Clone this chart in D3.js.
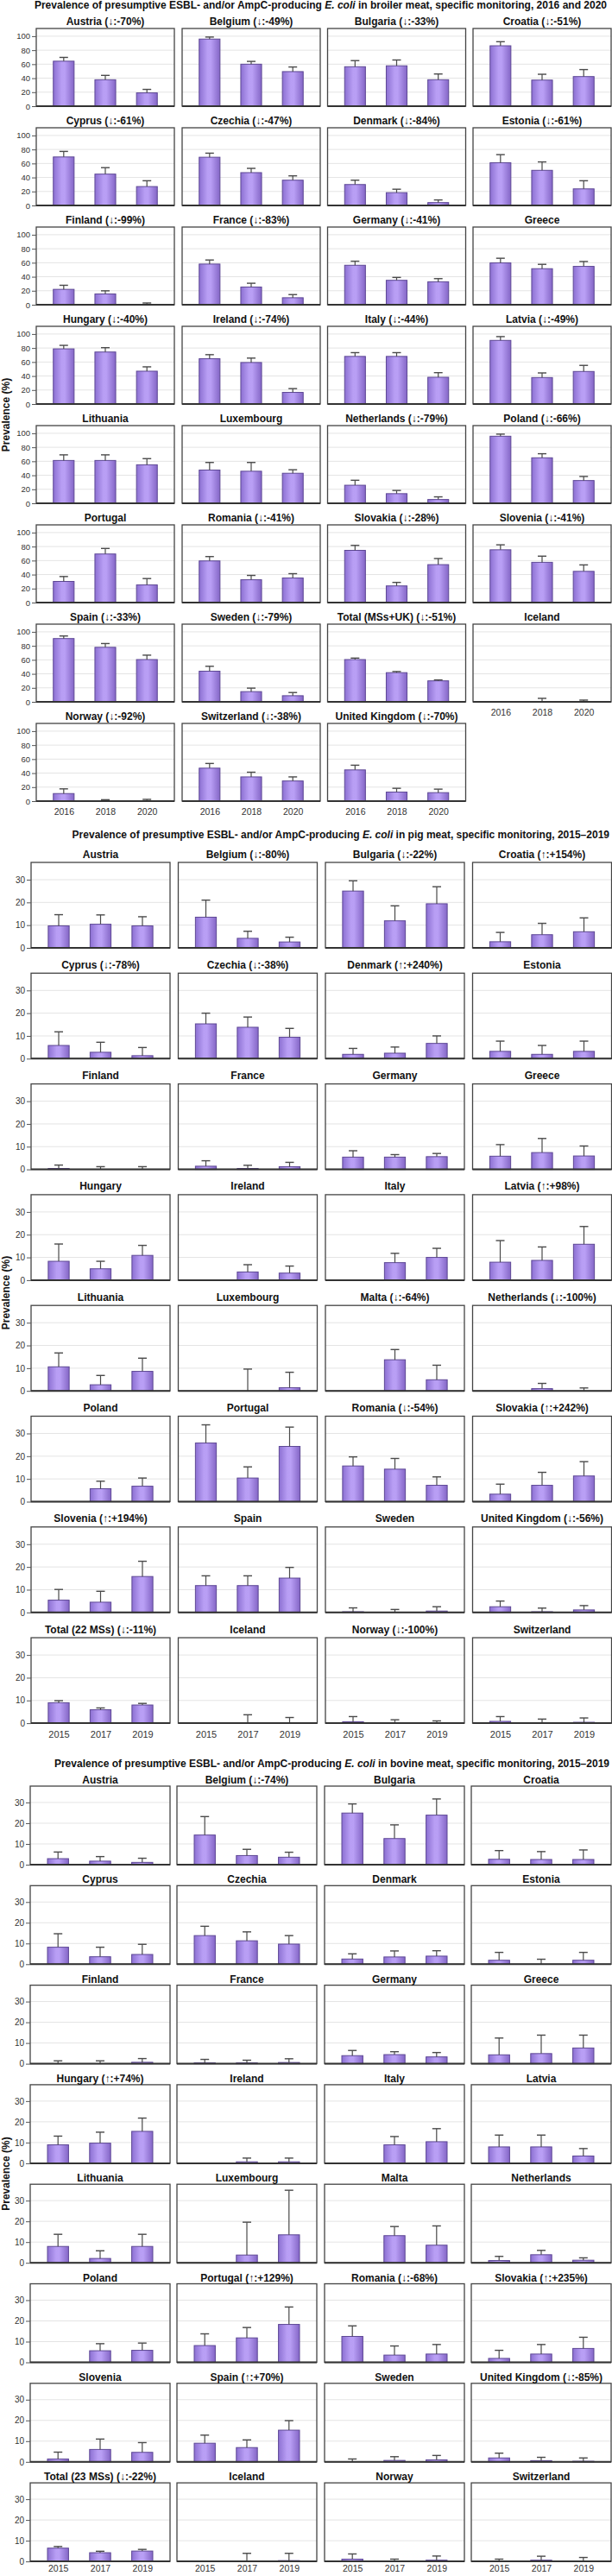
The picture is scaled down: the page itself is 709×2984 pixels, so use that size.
<!DOCTYPE html>
<html><head><meta charset="utf-8">
<script src="https://cdn.jsdelivr.net/npm/d3@7/dist/d3.min.js"></script>
<style>
body{margin:0;background:#fff}
svg{display:block;font-family:"Liberation Sans",Arial,Helvetica,sans-serif}
</style>
</head><body>
<svg id="chart" width="709" height="2984"></svg>
<script>
// ---------------- DATA ----------------
const broilerYears = ["2016", "2018", "2020"];
const broilerPanels = ["Austria (↓:-70%)","Belgium (↓:-49%)","Bulgaria (↓:-33%)","Croatia (↓:-51%)",
 "Cyprus (↓:-61%)","Czechia (↓:-47%)","Denmark (↓:-84%)","Estonia (↓:-61%)",
 "Finland (↓:-99%)","France (↓:-83%)","Germany (↓:-41%)","Greece",
 "Hungary (↓:-40%)","Ireland (↓:-74%)","Italy (↓:-44%)","Latvia (↓:-49%)",
 "Lithuania","Luxembourg","Netherlands (↓:-79%)","Poland (↓:-66%)",
 "Portugal","Romania (↓:-41%)","Slovakia (↓:-28%)","Slovenia (↓:-41%)",
 "Spain (↓:-33%)","Sweden (↓:-79%)","Total (MSs+UK) (↓:-51%)","Iceland",
 "Norway (↓:-92%)","Switzerland (↓:-38%)","United Kingdom (↓:-70%)"];
const broilerPrev = [[64.3,37.8,19],[95.9,60,49.4],[56.4,57.7,37.8],[86.3,37.3,42.3],
 [69.3,44.8,27],[68.9,46.9,36.1],[29.9,18.3,4.1],[61,50.2,23.7],
 [22,15.4,0.3],[58.1,25.3,10],[56.4,34.9,32.8],[59.8,51.5,54.8],
 [78.8,74.3,46.9],[64.7,59.3,16.6],[68,68,38.2],[90.9,37.8,46.5],
 [61.2,61.2,55],[47.5,45.8,42.9],[25.8,13.75,5.4],[95.8,65,32.5],
 [30.2,69.4,25.2],[59.5,32.6,35.1],[74.6,23.8,54.2],[75.4,57.5,44.6],
 [90.4,77.9,60.4],[43.8,14.6,8.75],[60.4,41.7,30],[null,0.5,0],
 [10.8,0.3,0.5],[47.1,34.6,28.8],[44.6,12.9,12.1]];
const broilerUpper = [[69.7,44,24],[98.8,64,56],[65.1,66,46],[92.1,45.6,52.3],
 [77.2,54,35.3],[74.7,53,42.3],[36.1,23.2,7.9],[72.6,62.2,35.3],
 [27.8,19.9,2.5],[63.9,30.7,14.5],[62.2,39,37.3],[66.4,57.7,61.8],
 [83.8,80.5,53.1],[70.5,65.6,22],[73.4,73.4,44.8],[96.3,44.4,55.2],
 [69.2,69.2,63.8],[58.3,58.3,47.9],[32.9,18.3,9.2],[98.8,70.8,38.3],
 [37.2,77.3,34.3],[65.7,38.8,41.3],[81.7,28.8,62.9],[82.5,66.3,53.8],
 [94.1,83.3,66.7],[50.8,19.6,13.3],[62.5,43.3,31.3],[null,5,2.5],
 [17.5,2,2.5],[53.8,41.3,34.6],[51.3,18.3,17.1]];
const broilerTicks = [0, 20, 40, 60, 80, 100];

const pigYears = ["2015", "2017", "2019"];
const pigPanels = ["Austria","Belgium (↓:-80%)","Bulgaria (↓:-22%)","Croatia (↑:+154%)",
 "Cyprus (↓:-78%)","Czechia (↓:-38%)","Denmark (↑:+240%)","Estonia",
 "Finland","France","Germany","Greece",
 "Hungary","Ireland","Italy","Latvia (↑:+98%)",
 "Lithuania","Luxembourg","Malta (↓:-64%)","Netherlands (↓:-100%)",
 "Poland","Portugal","Romania (↓:-54%)","Slovakia (↑:+242%)",
 "Slovenia (↑:+194%)","Spain","Sweden","United Kingdom (↓:-56%)",
 "Total (22 MSs) (↓:-11%)","Iceland","Norway (↓:-100%)","Switzerland"];
const pigPrev = [[9.7,10.4,9.7],[13.5,4.2,2.6],[25,11.9,19.4],[2.7,5.8,7.1],
 [5.8,2.8,1.3],[15.3,13.8,9.4],[1.9,2.4,6.7],[3.2,1.9,3.2],
 [0.4,0,0],[1.4,0.4,1.2],[5.4,5.4,5.6],[5.8,7.4,5.9],
 [8.3,5,10.9],[null,3.6,3.1],[null,7.7,10],[7.9,8.7,15.8],
 [10.6,2.7,8.6],[null,0,1.4],[null,13.7,4.9],[null,1,0],
 [null,5.7,6.8],[25.8,10.4,24.3],[15.7,14.3,7.2],[3.3,7.2,11.3],
 [5.4,4.5,15.8],[11.8,11.8,15.1],[0.3,0,0.6],[2.5,0.3,1.1],
 [9,5.9,8],[null,0,0],[0.6,0.2,0],[0.8,0.2,0.4]];
const pigUpper = [[14.6,14.5,13.7],[21,7.3,4.7],[29.5,18.5,26.9],[6.8,10.8,13.2],
 [11.8,7.2,4.9],[20,18.3,13.3],[4.5,5.1,10],[7.7,5.8,7.7],
 [1.9,1.2,1.2],[3.8,1.8,3.1],[8.2,6.5,7],[10.9,13.6,10.3],
 [15.9,8.3,15.3],[null,6.8,6.2],[null,11.8,14],[17.4,14.6,23.6],
 [16.7,6.8,14.4],[null,9.6,8.2],[null,18.2,11.3],[null,3.3,1.3],
 [null,9,10.4],[33.8,15.3,32.8],[19.7,19,10.9],[7.7,12.9,17.6],
 [10.1,9.3,22.5],[16.1,16.1,19.8],[2,1.3,2.5],[5,1.9,3],
 [9.9,6.7,8.7],[null,3.7,2.5],[2.9,1.5,1],[2.9,1.8,2.3]];
const pigTicks = [0, 10, 20, 30];

const bovineYears = ["2015", "2017", "2019"];
const bovinePanels = ["Austria","Belgium (↓:-74%)","Bulgaria","Croatia",
 "Cyprus","Czechia","Denmark","Estonia",
 "Finland","France","Germany","Greece",
 "Hungary (↑:+74%)","Ireland","Italy","Latvia",
 "Lithuania","Luxembourg","Malta","Netherlands",
 "Poland","Portugal (↑:+129%)","Romania (↓:-68%)","Slovakia (↑:+235%)",
 "Slovenia","Spain (↑:+70%)","Sweden","United Kingdom (↓:-85%)",
 "Total (23 MSs) (↓:-22%)","Iceland","Norway","Switzerland"];
const bovinePrev = [[2.9,1.7,1.1],[14.3,4.4,3.6],[24.9,12.6,23.9],[2.6,2.5,2.5],
 [8.2,3.6,4.7],[13.8,11.3,9.7],[2.5,3.5,3.9],[1.9,0,1.9],
 [0,0,0.7],[0.4,0.4,0.6],[3.9,4.4,3.3],[4.3,4.9,7.6],
 [8.9,9.7,15.4],[null,0.7,0.7],[null,8.9,10.4],[7.9,7.9,3.5],
 [7.9,2.1,7.9],[null,3.75,13.5],[null,13.1,8.5],[1.1,3.9,1.25],
 [null,5.6,5.8],[8.1,11.8,18.3],[12.5,3.5,4],[1.9,4,6.7],
 [1.4,6,4.6],[9,6.9,15.3],[0,0.7,1],[1.9,0.6,0.3],
 [6.4,4.2,5],[null,0,0.4],[1.1,0,0.6],[0,0.6,0.2]];
const bovineUpper = [[6.1,3.9,3.1],[23.2,7.4,6],[29.3,19.2,31.7],[6.8,6.3,7.1],
 [14.7,8.2,9.6],[18.3,15.6,13.8],[5,6.4,6.5],[5.7,2.4,5.7],
 [1.4,1.4,2.5],[2.1,1.7,2.4],[6.4,5.8,5.4],[12.4,13.8,13.8],
 [13.1,15,21.8],[null,2.5,2.5],[null,12.9,16.7],[13.6,13.6,7.1],
 [13.75,5.8,13.75],[null,19.6,35],[null,17.5,17.8],[3.1,6,2.4],
 [null,9,9.3],[13.75,16.8,26.7],[17.6,7.9,8.6],[5.8,8.6,12.1],
 [4.7,11,9.3],[12.9,10.6,19.9],[1.4,2.5,3.1],[4.2,2.2,1.9],
 [7.2,4.9,5.8],[null,3.9,3.9],[3.6,1.1,2.6],[1.1,2.5,1.9]];
const bovineTicks = [0, 10, 20, 30];

const yLabel = "Prevalence (%)";

// ---------------- LAYOUT ----------------
const sections = [
  {meat: "broiler meat", tail: ", specific monitoring, 2016 and 2020",
   years: broilerYears, panels: broilerPanels, prev: broilerPrev, upper: broilerUpper, ticks: broilerTicks,
   cols: [42, 211, 379.5, 548], w: 160, top: 33, step: 115, h: 90, ymax: 111,
   titleY: 10, titleX: 703, ptOff: 4, tickFont: 9.5, yearFont: 10.5, yearPad: 9},
  {meat: "pig meat", tail: ", specific monitoring, 2015–2019",
   years: pigYears, panels: pigPanels, prev: pigPrev, upper: pigUpper, ticks: pigTicks,
   cols: [36, 206.5, 377, 547.5], w: 161, top: 999, step: 128.3, h: 99, ymax: 37.6,
   titleY: 971, titleX: 706, ptOff: 5.5, tickFont: 10, yearFont: 11, yearPad: 9},
  {meat: "bovine meat", tail: ", specific monitoring, 2015–2019",
   years: bovineYears, panels: bovinePanels, prev: bovinePrev, upper: bovineUpper, ticks: bovineTicks,
   cols: [35, 205, 376, 546], w: 162, top: 2069, step: 115.3, h: 91, ymax: 37.9,
   titleY: 2047, titleX: 706, ptOff: 3, tickFont: 10, yearFont: 10.5, yearPad: 4}
];

const svg = d3.select("#chart");
const defs = svg.append("defs");
const grad = defs.append("linearGradient").attr("id", "barGrad")
  .attr("x1", "0").attr("x2", "1").attr("y1", "0").attr("y2", "0");
grad.append("stop").attr("offset", "0%").attr("stop-color", "#8c70d2");
grad.append("stop").attr("offset", "40%").attr("stop-color", "#b89ef4");
grad.append("stop").attr("offset", "55%").attr("stop-color", "#b99ff5");
grad.append("stop").attr("offset", "100%").attr("stop-color", "#8466c6");

sections.forEach(sec => {
  // section title
  const t = svg.append("text").attr("x", sec.titleX).attr("y", sec.titleY)
    .attr("text-anchor", "end").attr("font-size", 12).attr("font-weight", "bold").attr("fill", "#111");
  t.append("tspan").text("Prevalence of presumptive ESBL- and/or AmpC-producing ");
  t.append("tspan").attr("font-style", "italic").text("E. coli");
  t.append("tspan").text(" in " + sec.meat + sec.tail);

  const n = sec.panels.length;
  const nRows = Math.ceil(n / 4);
  const y = d3.scaleLinear().domain([0, sec.ymax]).range([sec.h, 0]);
  const x = d3.scalePoint().domain(sec.years).range([0, sec.w]).padding(0.66);
  const bw = x.step() * 0.5;

  // y label
  const yTop = sec.top, yBot = sec.top + (nRows - 1) * sec.step + sec.h;
  svg.append("text").attr("transform", `translate(7,${(yTop + yBot) / 2}) rotate(-90)`)
    .attr("text-anchor", "middle").attr("dominant-baseline", "central")
    .attr("font-size", 12).attr("font-weight", "bold").attr("fill", "#111").text(yLabel);

  sec.panels.forEach((name, i) => {
    const r = Math.floor(i / 4), c = i % 4;
    const g = svg.append("g").attr("transform", `translate(${sec.cols[c]},${sec.top + r * sec.step})`);

    // gridlines
    g.selectAll("line.grid").data(sec.ticks.filter(d => d > 0)).join("line")
      .attr("x1", 0).attr("x2", sec.w).attr("y1", d => y(d)).attr("y2", d => y(d))
      .attr("stroke", "#e4e4e4").attr("stroke-width", 1);

    // bars
    const rows = sec.years.map((yr, k) => ({yr, v: sec.prev[i][k], u: sec.upper[i][k]}));
    g.selectAll("rect.bar").data(rows.filter(d => d.v != null && d.v > 0)).join("rect")
      .attr("x", d => x(d.yr) - bw / 2).attr("width", bw)
      .attr("y", d => y(d.v)).attr("height", d => sec.h - y(d.v))
      .attr("fill", "url(#barGrad)").attr("stroke", "#5d4794").attr("stroke-width", 1);

    // error bars
    const eb = rows.filter(d => d.u != null);
    g.selectAll("line.err").data(eb).join("line")
      .attr("x1", d => x(d.yr)).attr("x2", d => x(d.yr))
      .attr("y1", d => y(d.v || 0)).attr("y2", d => y(d.u))
      .attr("stroke", "#4a4a4a").attr("stroke-width", 1.2);
    g.selectAll("line.cap").data(eb).join("line")
      .attr("x1", d => x(d.yr) - 5).attr("x2", d => x(d.yr) + 5)
      .attr("y1", d => y(d.u)).attr("y2", d => y(d.u))
      .attr("stroke", "#4a4a4a").attr("stroke-width", 1.4);

    // frame
    g.append("rect").attr("x", 0).attr("y", 0).attr("width", sec.w).attr("height", sec.h)
      .attr("fill", "none").attr("stroke", "#444").attr("stroke-width", 1.3);
    g.append("line").attr("x1", 0).attr("x2", sec.w).attr("y1", sec.h).attr("y2", sec.h)
      .attr("stroke", "#333").attr("stroke-width", 2);

    // y axis on first column
    if (c === 0) {
      const ax = g.append("g").call(d3.axisLeft(y).tickValues(sec.ticks).tickSize(5).tickPadding(2));
      ax.select(".domain").remove();
      ax.selectAll("line").attr("stroke", "#555");
      ax.selectAll("text").attr("font-size", sec.tickFont).attr("fill", "#333")
        .attr("font-family", "'Liberation Sans',Arial,sans-serif");
    }
    // x labels where no panel below
    if (i + 4 >= n) {
      const ax = g.append("g").attr("transform", `translate(0,${sec.h})`)
        .call(d3.axisBottom(x).tickSize(0).tickPadding(sec.yearPad));
      ax.select(".domain").remove();
      ax.selectAll("text").attr("font-size", sec.yearFont).attr("fill", "#333")
        .attr("font-family", "'Liberation Sans',Arial,sans-serif");
    }

    // panel title
    g.append("text").attr("x", sec.w / 2).attr("y", -sec.ptOff).attr("text-anchor", "middle")
      .attr("font-size", 12).attr("font-weight", "bold").attr("fill", "#111").text(name);
  });
});
</script>
</body></html>
